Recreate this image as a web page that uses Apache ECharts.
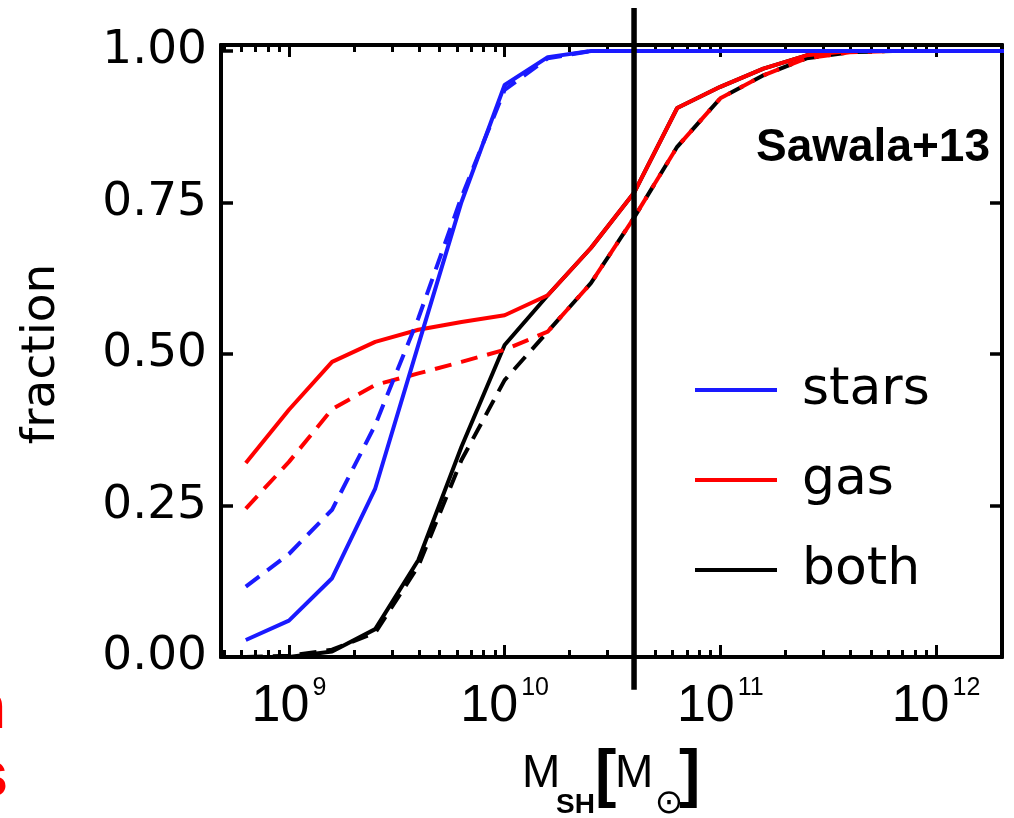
<!DOCTYPE html>
<html>
<head>
<meta charset="utf-8">
<script src="https://cdn.jsdelivr.net/npm/echarts@6/dist/echarts.min.js"></script>
<style>
  html, body { margin: 0; padding: 0; background: #fff; }
  #chart { width: 1014px; height: 818px; }
</style>
</head>
<body>
<div id="chart"></div>
<script>
// x values are log10 of subhalo mass
var logMass = [8.8, 9.0, 9.2, 9.4, 9.6, 9.8, 10.0, 10.2, 10.4, 10.6, 10.8, 11.0, 11.2, 11.4, 11.6, 11.8, 12.0, 12.2, 12.4];

var starsSolid  = [0.028, 0.060, 0.130, 0.278, 0.515, 0.751, 0.944, 0.990, 1.0, 1.0, 1.0, 1.0, 1.0, 1.0, 1.0, 1.0, 1.0, 1.0, 1.0];
var starsDashed = [0.116, 0.170, 0.243, 0.383, 0.559, 0.759, 0.936, 0.988, 1.0, 1.0, 1.0, 1.0, 1.0, 1.0, 1.0, 1.0, 1.0, 1.0, 1.0];
var gasSolid    = [0.320, 0.408, 0.487, 0.520, 0.540, 0.553, 0.564, 0.597, 0.675, 0.766, 0.906, 0.941, 0.971, 0.993, 1.0, 1.0, 1.0, 1.0, 1.0];
var gasDashed   = [0.245, 0.322, 0.409, 0.449, 0.468, 0.487, 0.507, 0.537, 0.617, 0.725, 0.842, 0.922, 0.960, 0.988, 0.998, 1.0, 1.0, 1.0, 1.0];
var bothSolid   = [0.0, 0.0, 0.009, 0.046, 0.160, 0.347, 0.515, 0.597, 0.675, 0.766, 0.906, 0.941, 0.971, 0.993, 1.0, 1.0, 1.0, 1.0, 1.0];
var bothDashed  = [0.0, 0.002, 0.012, 0.040, 0.150, 0.325, 0.457, 0.537, 0.617, 0.725, 0.842, 0.922, 0.960, 0.988, 0.998, 1.0, 1.0, 1.0, 1.0];

var cutMass = 10.6;          // vertical marker line
var decadeTicks = [9, 10, 11, 12];
var fractionTicks = [0, 0.25, 0.5, 0.75, 1.0];

var xMin = 8.685, xMax = 12.306;

// minor ticks at 2..9 x 10^n
var minorTicks = [];
for (var n = 8; n <= 12; n++) {
  for (var k = 2; k <= 9; k++) {
    var v = n + Math.log10(k);
    if (v > xMin && v < xMax) minorTicks.push(v);
  }
}

function pairs(ys) {
  return logMass.map(function (x, i) { return [x, ys[i]]; });
}

function lineSeries(name, ys, color, dashed, z) {
  return {
    name: name,
    type: 'line',
    data: pairs(ys),
    symbol: 'none',
    z: z,
    lineStyle: { color: color, width: 4, type: dashed ? [17, 10] : 'solid' },
    itemStyle: { color: color },
    emphasis: { disabled: true }
  };
}

function xAxisFor(pos, ticks, len, showLabels) {
  return {
    type: 'value', position: pos, min: xMin, max: xMax,
    axisLine: { show: true, onZero: false, lineStyle: { color: '#000', width: 4 } },
    axisTick: { show: true, inside: true, length: len, customValues: ticks,
                lineStyle: { color: '#000', width: 3 } },
    axisLabel: {
      show: showLabels, customValues: decadeTicks, margin: 24,
      formatter: function (v) { return '{b|10}{s|' + Math.round(v) + '}'; },
      rich: {
        b: { fontSize: 52, lineHeight: 52, fontFamily: 'Liberation Sans', color: '#000', verticalAlign: 'bottom' },
        s: { fontSize: 25, lineHeight: 25, fontFamily: 'Liberation Sans', color: '#000',
             verticalAlign: 'bottom', padding: [0, 0, 32, 3] }
      }
    },
    splitLine: { show: false }
  };
}

function yAxisFor(pos, showLabels) {
  return {
    type: 'value', position: pos, min: 0, max: 1.01,
    axisLine: { show: true, onZero: false, lineStyle: { color: '#000', width: 4 } },
    axisTick: { show: true, inside: true, length: 12, customValues: fractionTicks,
                lineStyle: { color: '#000', width: 3.5 } },
    axisLabel: {
      show: showLabels, customValues: fractionTicks, margin: 14,
      fontSize: 47, fontFamily: 'DejaVu Sans', color: '#000',
      formatter: function (v) { return v.toFixed(2); }
    },
    splitLine: { show: false }
  };
}

function label(text, x, y, font, align) {
  return { type: 'text', x: x, y: y,
           style: { text: text, align: align || 'left', verticalAlign: 'middle', font: font, fill: '#000' } };
}

var chart = echarts.init(document.getElementById('chart'));
var option = {
  animation: false,
  backgroundColor: '#fff',
  grid: { left: 221, right: 12, top: 45, bottom: 161, outerBoundsMode: 'none' },
  xAxis: [
    xAxisFor('bottom', decadeTicks, 12, true),
    xAxisFor('bottom', minorTicks, 7, false),
    xAxisFor('top', decadeTicks, 12, false),
    xAxisFor('top', minorTicks, 7, false)
  ],
  yAxis: [yAxisFor('left', true), yAxisFor('right', false)],
  legend: {
    data: ['stars', 'gas', 'both'],
    orient: 'vertical', left: 695, top: 362, padding: 0,
    icon: 'rect', itemWidth: 82, itemHeight: 4, itemGap: 34,
    selectedMode: false,
    textStyle: { fontSize: 52, lineHeight: 56, fontFamily: 'DejaVu Sans', color: '#000', padding: [0, 0, 0, 20] }
  },
  series: [
    lineSeries('both', bothSolid, '#000000', false, 2),
    lineSeries('both dashed', bothDashed, '#000000', true, 2),
    lineSeries('gas', gasSolid, '#ff0000', false, 3),
    lineSeries('gas dashed', gasDashed, '#ff0000', true, 3),
    lineSeries('stars', starsSolid, '#1a1aff', false, 4),
    lineSeries('stars dashed', starsDashed, '#1a1aff', true, 4),
    {
      name: 'cut', type: 'line', clip: false, symbol: 'none', z: 10,
      data: [[cutMass, -0.054], [cutMass, 1.071]],
      lineStyle: { color: '#000', width: 5.5 },
      emphasis: { disabled: true }
    }
  ],
  graphic: [
    label('Sawala+13', 990, 148, 'bold 46px "Liberation Sans"', 'right'),
    { type: 'text', x: 42, y: 354, rotation: Math.PI / 2,
      style: { text: 'fraction', align: 'center', verticalAlign: 'middle',
               font: '47px "DejaVu Sans"', fill: '#000' } },
    // x axis title: M_SH [M_sun]
    label('M', 522, 774, '46px "Liberation Sans"'),
    label('SH', 556, 805, 'bold 28px "Liberation Sans"'),
    label('[', 595, 777, 'bold 64px "Liberation Sans"'),
    label('M', 615, 774, '46px "Liberation Sans"'),
    label('\u2299', 669, 804, '34px "DejaVu Sans"', 'center'),
    label(']', 679, 777, 'bold 64px "Liberation Sans"'),
    { type: 'text', x: 6, y: 742,
      style: { text: 'n', align: 'right', verticalAlign: 'bottom',
               font: 'bold 64px "Liberation Sans"', fill: '#ff0000' } },
    { type: 'text', x: 8, y: 810,
      style: { text: 's', align: 'right', verticalAlign: 'bottom',
               font: 'bold 64px "Liberation Sans"', fill: '#ff0000' } }
  ]
};
chart.setOption(option);
</script>
</body>
</html>
